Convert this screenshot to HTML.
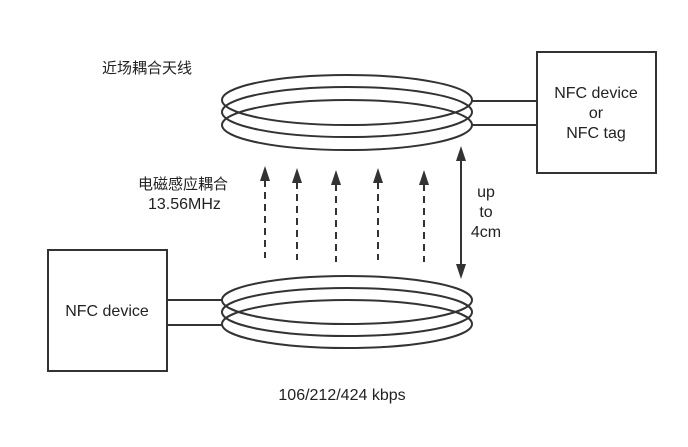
<!DOCTYPE html>
<html><head><meta charset="utf-8"><style>
body{margin:0;background:#fff}
svg{display:block}
text{font-family:"Liberation Sans","Noto Sans CJK SC",sans-serif;font-size:16px;fill:#222}
</style></head><body>
<svg width="688" height="447" viewBox="0 0 688 447">
<g fill="none" stroke="#333" stroke-width="2">
<ellipse cx="347" cy="100" rx="125" ry="25"/>
<ellipse cx="347" cy="112" rx="125" ry="25"/>
<ellipse cx="347" cy="125" rx="125" ry="25"/>
<line x1="472" y1="101" x2="537" y2="101"/>
<line x1="472" y1="125" x2="537" y2="125"/>
<rect x="537" y="52" width="119" height="121"/>
<ellipse cx="347" cy="300" rx="125" ry="24"/>
<ellipse cx="347" cy="312" rx="125" ry="24"/>
<ellipse cx="347" cy="324" rx="125" ry="24"/>
<line x1="167" y1="300" x2="222" y2="300"/>
<line x1="167" y1="325" x2="222" y2="325"/>
<rect x="48" y="250" width="119" height="121"/>
<g stroke-dasharray="7,5">
<line x1="265" y1="180" x2="265" y2="258"/>
<line x1="297" y1="182" x2="297" y2="260"/>
<line x1="336" y1="184" x2="336" y2="262"/>
<line x1="378" y1="182" x2="378" y2="260"/>
<line x1="424" y1="184" x2="424" y2="262"/>
</g>
<line x1="461" y1="158" x2="461" y2="266"/>
</g>
<g fill="#333">
<polygon points="265,166 260,181 270,181"/>
<polygon points="297,168 292,183 302,183"/>
<polygon points="336,170 331,185 341,185"/>
<polygon points="378,168 373,183 383,183"/>
<polygon points="424,170 419,185 429,185"/>
<polygon points="461,146 456,161 466,161"/>
<polygon points="461,279 456,264 466,264"/>
</g>
<text x="102" y="73" style="font-size:15px">近场耦合天线</text>
<text x="138" y="189" style="font-size:15px">电磁感应耦合</text>
<text x="148" y="209">13.56MHz</text>
<text x="486" y="197" text-anchor="middle">up</text>
<text x="486" y="217" text-anchor="middle">to</text>
<text x="486" y="237" text-anchor="middle">4cm</text>
<text x="596" y="98" text-anchor="middle">NFC device</text>
<text x="596" y="118" text-anchor="middle">or</text>
<text x="596" y="138" text-anchor="middle">NFC tag</text>
<text x="107" y="316" text-anchor="middle">NFC device</text>
<text x="342" y="400" text-anchor="middle">106/212/424 kbps</text>
</svg>
</body></html>
